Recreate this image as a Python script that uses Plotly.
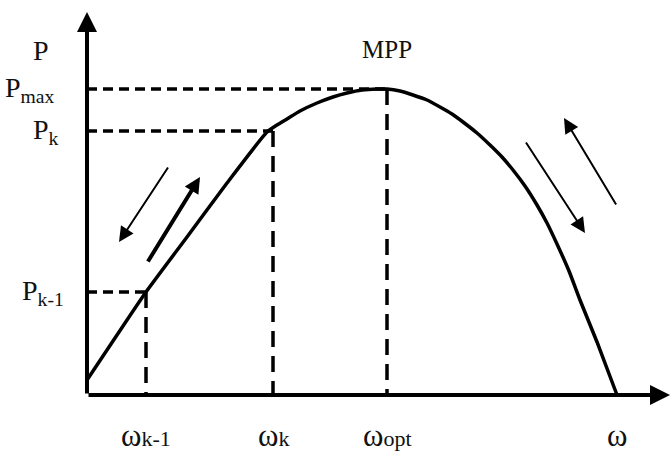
import plotly.graph_objects as go

# Schematic P-omega characteristic used to explain perturb-and-observe MPPT.
# Units are arbitrary (1 unit = 1 px of the layout below).
omega_curve = [0, 30, 59, 100, 140, 180, 190, 200, 213, 230, 246, 260, 275,
               290, 300, 313, 326, 340, 353, 365, 376, 390, 403, 415, 426,
               438, 450, 460, 470, 482, 493, 510, 530]
p_curve = [15, 60, 103, 158, 212, 263, 270, 276, 284, 292, 298, 302, 305,
           306, 306, 304, 300, 295, 288, 281, 273, 262, 250, 238, 225,
           209, 190, 172, 151, 124, 95, 53, 0]

# Operating points marked on the axes
omega_k1, p_k1 = 59, 103
omega_k, p_k = 186, 264
omega_opt, p_max = 300, 306
omega_zero = 530

# Axis extents
omega_axis_end = 583
p_axis_end = 383

# Direction arrows (tail -> head) showing the search direction
arrow_tails = [(82, 229), (60, 132), (438, 254), (530, 189)]
arrow_heads = [(32, 153), (113, 218), (498, 162), (477, 277)]
arrow_widths = [2, 4, 2, 2]
arrow_sizes = [1.5, 0.8, 1.5, 1.5]

font = dict(family="Liberation Serif", size=28, color="#111111")

fig = go.Figure()

# Main power curve
fig.add_trace(go.Scatter(
    x=omega_curve, y=p_curve, mode="lines",
    line=dict(color="black", width=3.5, shape="spline", smoothing=0.5),
    hoverinfo="skip", showlegend=False))

# Horizontal dashed guides from the P axis
h_dash = dict(color="black", width=3.5, dash="10px,6px")
for p_val, w_val in [(p_max, omega_opt), (p_k, omega_k), (p_k1, omega_k1)]:
    fig.add_trace(go.Scatter(x=[0, w_val], y=[p_val, p_val], mode="lines",
                             line=h_dash, hoverinfo="skip", showlegend=False))

# Vertical dashed guides down to the omega axis
v_dash = dict(color="black", width=3.5, dash="16px,9px")
for w_val, p_val in [(omega_opt, p_max), (omega_k, p_k), (omega_k1, p_k1)]:
    fig.add_trace(go.Scatter(x=[w_val, w_val], y=[p_val, 0], mode="lines",
                             line=v_dash, hoverinfo="skip", showlegend=False))

annotations = []

# Axes drawn as arrows
for tip in [(0, p_axis_end), (omega_axis_end, 0)]:
    annotations.append(dict(
        x=tip[0], y=tip[1], ax=0, ay=0, xref="x", yref="y", axref="x", ayref="y",
        text="", showarrow=True, arrowhead=2, arrowsize=1.0, arrowwidth=4,
        arrowcolor="black", standoff=0, startstandoff=0))

# Search-direction arrows
for (tx, ty), (hx, hy), w, s in zip(arrow_tails, arrow_heads, arrow_widths, arrow_sizes):
    annotations.append(dict(
        x=hx, y=hy, ax=tx, ay=ty, xref="x", yref="y", axref="x", ayref="y",
        text="", showarrow=True, arrowhead=2, arrowsize=s, arrowwidth=w,
        arrowcolor="black", standoff=0))

# P-axis labels
p_labels = [("P", 345, -46), ("P<sub>max</sub>", p_max, -57),
            ("P<sub>k</sub>", p_k, -41), ("P<sub>k-1</sub>", p_k1, -44)]
for txt, yv, xv in p_labels:
    annotations.append(dict(x=xv, y=yv, xref="x", yref="y", text=txt,
                            showarrow=False, font=font,
                            xanchor="center", yanchor="middle"))

# Omega-axis labels (index set slightly smaller, close to the baseline)
small = "<span style='font-size:22px'>{}</span>"
w_labels = [("ω" + small.format("k-1"), omega_k1), ("ω" + small.format("k"), omega_k),
            ("ω" + small.format("opt"), omega_opt), ("ω", omega_zero)]
for txt, xv in w_labels:
    annotations.append(dict(x=xv, y=-40, xref="x", yref="y", text=txt,
                            showarrow=False, font=dict(font, size=31),
                            xanchor="center", yanchor="middle"))

annotations.append(dict(x=omega_opt, y=346, xref="x", yref="y", text="MPP",
                        showarrow=False, font=dict(font, size=25),
                        xanchor="center", yanchor="middle"))

fig.update_layout(
    width=670, height=452,
    margin=dict(l=0, r=0, t=0, b=0),
    paper_bgcolor="white", plot_bgcolor="white",
    xaxis=dict(range=[-87, 583], visible=False, fixedrange=True),
    yaxis=dict(range=[-57, 395], visible=False, fixedrange=True),
    annotations=annotations,
    showlegend=False,
)

fig.write_html("out.html")
